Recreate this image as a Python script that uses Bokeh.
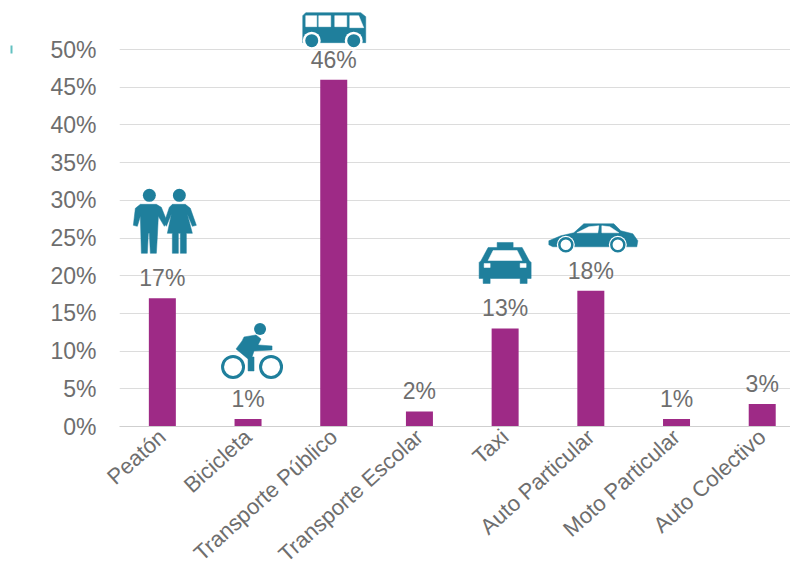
from bokeh.plotting import figure
from bokeh.models import Range1d, FixedTicker, ColumnDataSource, LinearAxis
from bokeh.embed import file_html
from bokeh.resources import INLINE
from bokeh.core.properties import value
import math

categories = ["Peatón", "Bicicleta", "Transporte Público", "Transporte Escolar",
              "Taxi", "Auto Particular", "Moto Particular", "Auto Colectivo"]
shares = [17, 1, 46, 2, 13, 18, 1, 3]
y_ticks = [0, 5, 10, 15, 20, 25, 30, 35, 40, 45, 50]

PURPLE = "#9E2A86"
TEAL = "#1F7F9C"
GREY = "#6E6E6E"
FONT = "Liberation Sans"

FIG_W, FIG_H = 790, 578
LEFT, BOTTOM = 119, 152
PLOT_W, PLOT_H = FIG_W - LEFT, FIG_H - BOTTOM
PY = 7.54
X0, X1 = -0.5, 7.33
Y0, Y1 = 0, PLOT_H / PY
PX = PLOT_W / (X1 - X0)

p = figure(width=FIG_W, height=FIG_H, output_backend="svg", toolbar_location=None,
           x_range=Range1d(X0, X1), y_range=Range1d(Y0, Y1),
           min_border_left=LEFT, min_border_right=0, min_border_top=0, min_border_bottom=BOTTOM)
p.outline_line_color = None
p.xgrid.visible = False
p.ygrid.grid_line_color = "#DCDCDC"
p.ygrid.grid_line_width = 1
p.ygrid.ticker = FixedTicker(ticks=y_ticks)

p.yaxis.ticker = FixedTicker(ticks=y_ticks)
p.yaxis.major_label_overrides = {t: f"{t}%" for t in y_ticks}
p.yaxis.axis_line_color = None
p.yaxis.major_tick_line_color = None
p.yaxis.minor_tick_line_color = None
p.yaxis.major_label_text_font = FONT
p.yaxis.major_label_text_font_size = "23px"
p.yaxis.major_label_text_color = GREY
p.yaxis.major_label_standoff = 17

# the small teal sliver at the far left, level with the 50% line, is a fat tick of a second axis
sliver = LinearAxis(ticker=FixedTicker(ticks=[50]), major_label_overrides={50: ""},
                    axis_line_color=None, minor_tick_line_color=None,
                    major_tick_line_color="#1FA6A6", major_tick_line_alpha=0.7,
                    major_tick_line_width=8, major_tick_in=-35, major_tick_out=37, major_label_standoff=0)
p.add_layout(sliver, "left")

p.xaxis.ticker = FixedTicker(ticks=list(range(len(categories))))
p.xaxis.major_label_overrides = {i: c for i, c in enumerate(categories)}
p.xaxis.major_label_orientation = math.radians(42)
p.xaxis.axis_line_color = "#CFCFCF"
p.xaxis.major_tick_line_color = None
p.xaxis.major_tick_in = 0
p.xaxis.major_tick_out = 0
p.xaxis.minor_tick_line_color = None
p.xaxis.major_label_text_font = FONT
p.xaxis.major_label_text_font_size = "22px"
p.xaxis.major_label_text_color = GREY
p.xaxis.major_label_standoff = 7

xs = list(range(len(categories)))
src = ColumnDataSource(dict(x=xs, top=shares, label=[f"{v}%" for v in shares]))
p.vbar(x="x", top="top", width=27 / PX, bottom=0, source=src, fill_color=PURPLE, line_color=None)
p.text(x="x", y="top", text="label", source=src, text_align="center", text_baseline="middle",
       y_offset=-20, text_font=value(FONT), text_font_size="23px", text_color=GREY)


def poly(i, pts, color=TEAL):
    """Icon outline: pts are pixel offsets (right, up) from the top centre of bar i."""
    xs_ = [i + dx / PX for dx, dy in pts]
    ys_ = [shares[i] + dy / PY for dx, dy in pts]
    p.patch(xs_, ys_, fill_color=color, line_color=color, line_width=0.5, line_join="round")


def dot(i, dx, dy, r, color=TEAL, hollow=False, lw=3):
    x = i + dx / PX
    y = shares[i] + dy / PY
    if hollow:
        p.scatter([x], [y], size=2 * r, marker="circle", fill_color=None, line_color=color, line_width=lw)
    else:
        p.scatter([x], [y], size=2 * r, marker="circle", fill_color=color, line_color=None)


# --- people (Peatón)
dot(0, -13, 103, 6.5)
dot(0, 17, 103, 6.5)
poly(0, [(-22, 94), (-6, 94), (-1, 91), (5, 76), (2, 72), (-4, 82), (-5, 62), (-6, 45), (-12, 45), (-13, 65),
         (-14, 65), (-15, 45), (-21, 45), (-22, 82), (-25, 72), (-29, 73), (-27, 90)])
poly(0, [(10, 94), (23, 94), (28, 90), (34, 73), (30, 72), (25, 84), (30, 65), (24, 65), (24, 45), (18, 45),
         (18, 65), (16, 65), (16, 45), (10, 45), (10, 65), (5, 65), (9, 84), (4, 72), (2, 76), (7, 91)])

# --- bicycle (Bicicleta)
dot(1, 12, 90, 6)
dot(1, -15, 52, 10.5, hollow=True)
dot(1, 23, 52, 10.5, hollow=True)
poly(1, [(-4, 82), (8, 84), (13, 80), (10, 74), (24, 73), (24, 69), (6, 68), (4, 62), (6, 62), (6, 48), (0, 48),
         (0, 60), (-12, 70), (-6, 78)])

# --- bus (Transporte Público)
poly(2, [(-28, 67), (27, 67), (32, 63), (32, 37), (-31, 37), (-31, 64)])
for wx in (-22, 20):
    dot(2, wx, 39, 9, color="white")
    dot(2, wx, 39, 6.5)
for wl, wr in ((-28, -17), (-15, -3), (1, 13)):
    poly(2, [(wl, 64), (wr, 64), (wr, 53), (wl, 53)], color="white")
poly(2, [(16, 64), (25, 64), (30, 52), (16, 52)], color="white")

# --- taxi (Taxi)
poly(4, [(-8, 86), (8, 86), (8, 81), (17, 81), (24, 68), (26, 66), (26, 50), (22, 50), (22, 45), (15, 45), (15, 50),
         (-15, 50), (-15, 45), (-22, 45), (-22, 50), (-26, 50), (-26, 66), (-24, 68), (-17, 81), (-8, 81)])
poly(4, [(-12, 78), (12, 78), (17, 68), (-17, 68)], color="white")
poly(4, [(-21, 65), (-15, 65), (-15, 61), (-21, 61)], color="white")
poly(4, [(15, 65), (21, 65), (21, 61), (15, 61)], color="white")

# --- car (Auto Particular)
poly(5, [(-42, 50), (-30, 55), (-17, 58), (-7, 67), (23, 67), (30, 60), (42, 57), (47, 50), (46, 44), (-38, 44), (-42, 46)])
poly(5, [(-14, 58), (-2, 64), (8, 65), (7, 58)], color="white")
poly(5, [(11, 58), (11, 65), (19, 64), (28, 58)], color="white")
for wx in (-25, 27):
    dot(5, wx, 46, 9, color="white")
    dot(5, wx, 46, 6.5, hollow=True, lw=2.5)

open("out.html", "w").write(file_html(p, INLINE))
